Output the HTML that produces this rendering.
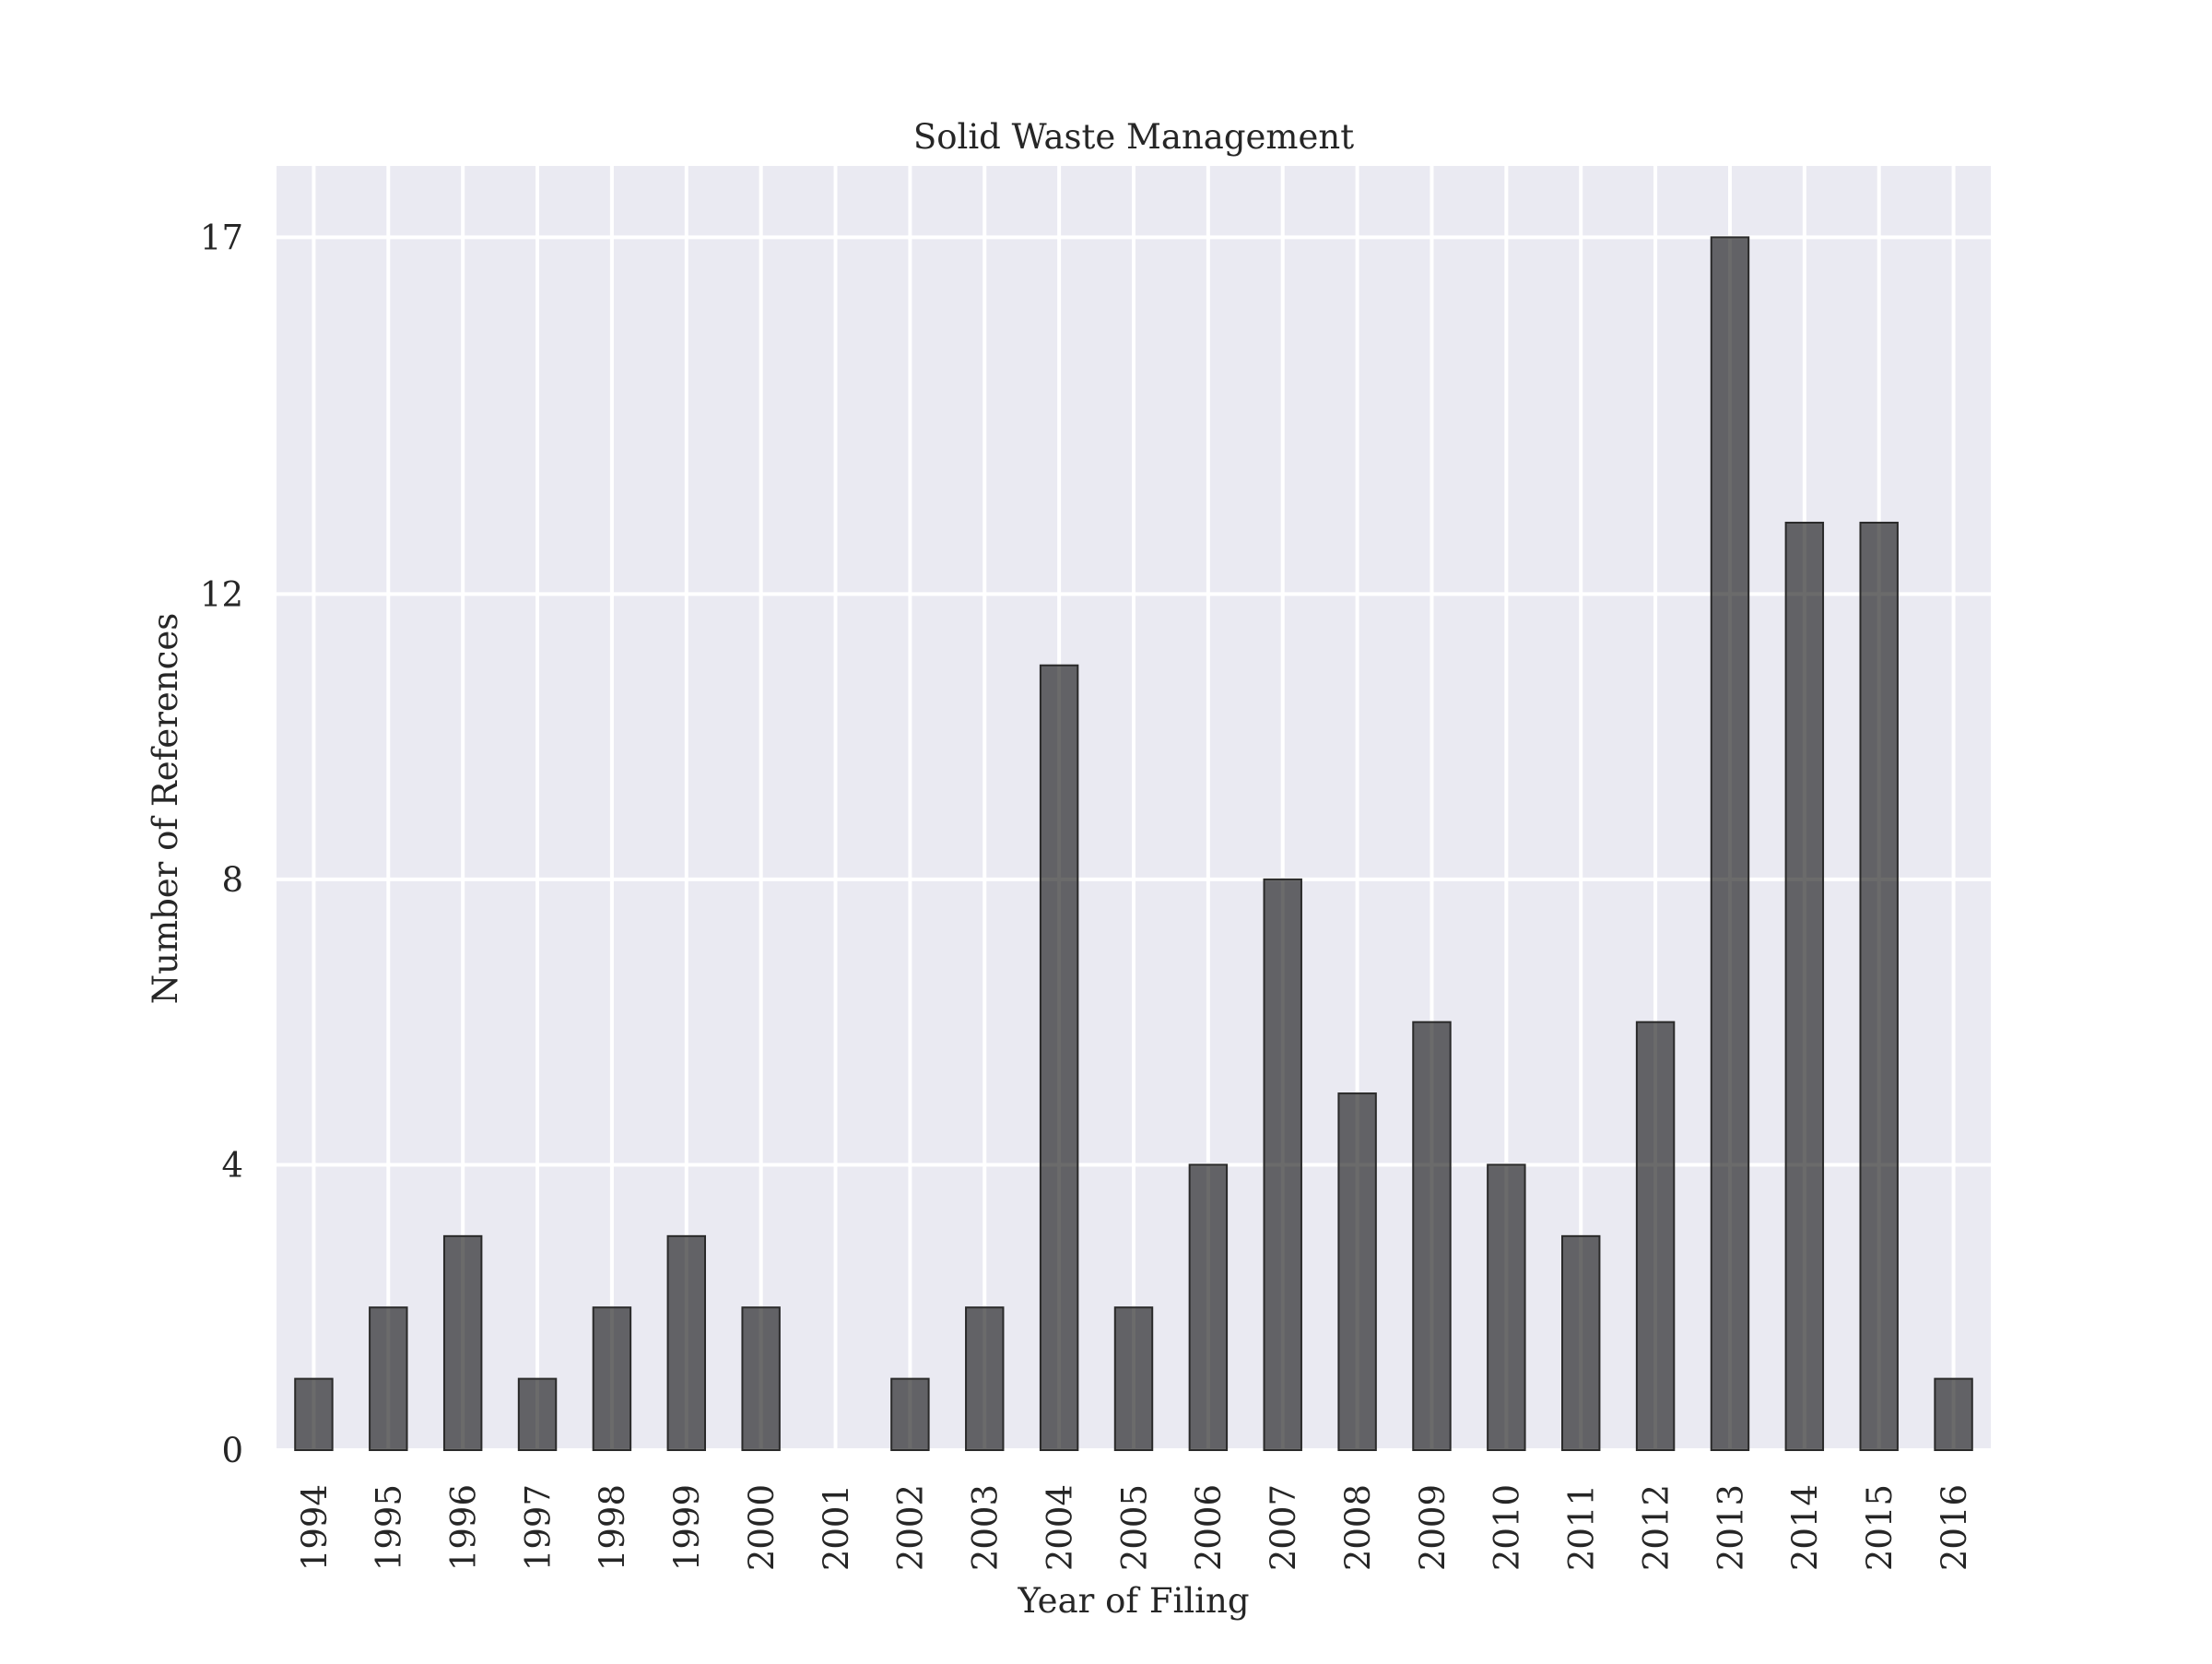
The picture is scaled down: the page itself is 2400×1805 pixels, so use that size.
<!DOCTYPE html>
<html><head><meta charset="utf-8"><style>
body{margin:0;background:#fff;}
svg text{font-family:"DejaVu Serif","Liberation Serif",serif;fill:#262626;}
</style></head><body>
<svg id="chart" width="2400" height="1800" viewBox="0 0 2400 1800" xmlns="http://www.w3.org/2000/svg">
<rect x="300" y="180" width="1860" height="1393" fill="#EAEAF2"/>
<g id="grid"></g>
<g id="bars"></g>
<g id="yticks"></g>
<g id="xticks"></g>
<text x="1230" y="161" font-size="37" text-anchor="middle">Solid Waste Management</text>
<text x="0" y="0" font-size="37" text-anchor="middle" transform="translate(192,877) rotate(-90)">Number of References</text>
<text x="1230" y="1749" font-size="37" text-anchor="middle">Year of Filing</text>
</svg>
<script>
const categories=["1994","1995","1996","1997","1998","1999","2000","2001","2002","2003","2004","2005","2006","2007","2008","2009","2010","2011","2012","2013","2014","2015","2016"];
const values=[1,2,3,1,2,3,2,0,1,2,11,2,4,8,5,6,4,3,6,17,13,13,1];
const yTicks=[0,4,8,12,17];
const yMax=18;
const NS="http://www.w3.org/2000/svg";
const L=300,R=2160,T=180,B=1573;
const band=(R-L)/categories.length;
const x=i=>L+band*(i+0.5);
const y=v=>B-(B-T)*v/yMax;
function mk(tag,attrs,parent){const e=document.createElementNS(NS,tag);for(const k in attrs)e.setAttribute(k,attrs[k]);parent.appendChild(e);return e;}
const grid=document.getElementById('grid'),bars=document.getElementById('bars'),yt=document.getElementById('yticks'),xt=document.getElementById('xticks');
yTicks.forEach(v=>{
  const g=mk('line',{x1:L,x2:R,y1:y(v),y2:y(v),stroke:'#fff','stroke-width':4},grid);
  
  
  const t=mk('text',{x:264,y:y(v)+13,'font-size':37,'text-anchor':'end'},yt);
  t.textContent=v;
  
  
});
categories.forEach((c,i)=>{
  const g=mk('line',{x1:x(i),x2:x(i),y1:T,y2:B,stroke:'#fff','stroke-width':4},grid);
  
  
  const w=band*0.5;
  const b=mk('rect',{x:x(i)-w/2,y:y(values[i]),width:w,height:Math.max(0,B-y(values[i])),fill:'rgba(0,0,0,0.58)',stroke:'#2a2a2a','stroke-width':2},bars);
  
  
  const t=mk('text',{x:0,y:0,'font-size':37,'text-anchor':'end',dy:'0.36em',transform:`translate(${x(i)},1610) rotate(-90)`},xt);
  t.textContent=c;
  
  
});
</script>
</body></html>
